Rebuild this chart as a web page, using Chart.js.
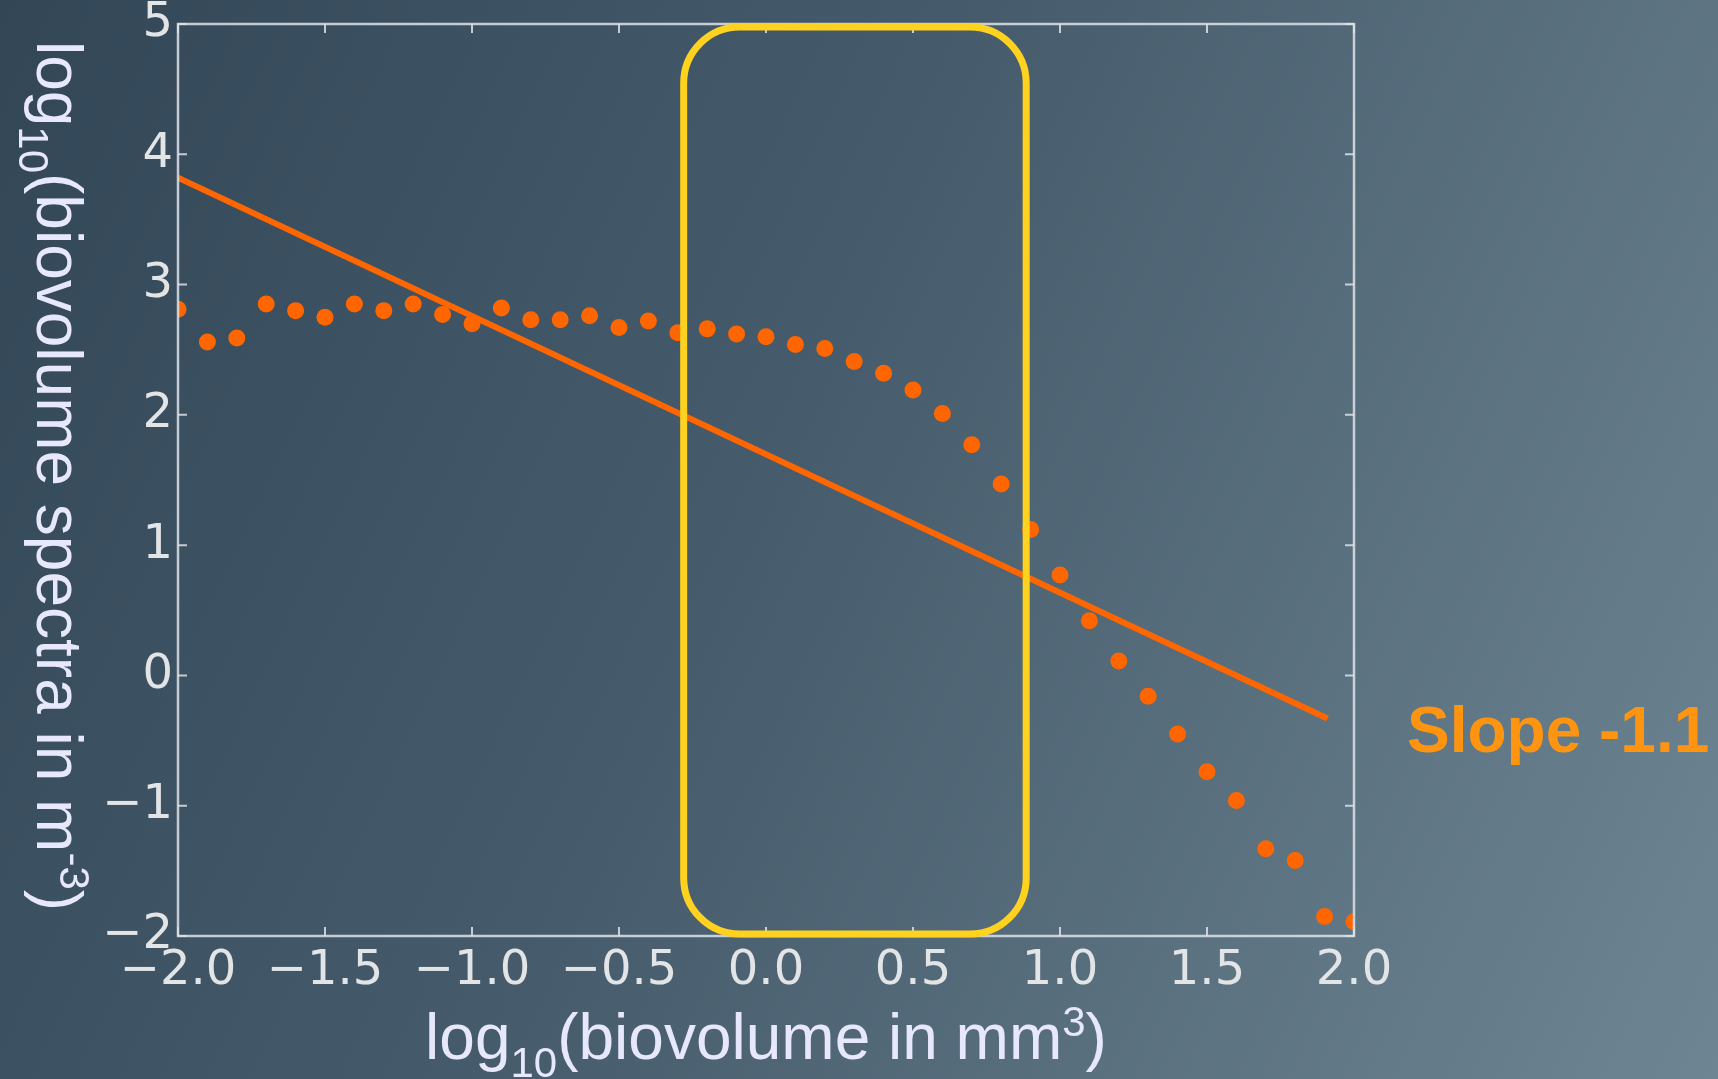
<!DOCTYPE html>
<html>
<head>
<meta charset="utf-8">
<title>Biovolume spectra</title>
<script src="https://cdn.jsdelivr.net/npm/chart.js@4.4.1/dist/chart.umd.min.js"></script>
<style>
    html, body { margin: 0; padding: 0; }
    body {
        width: 1718px;
        height: 1079px;
        overflow: hidden;
        background: linear-gradient(115deg, #324656 0%, #465c6c 45%, #6e8593 100%);
    }
    canvas { display: block; }
</style>
</head>
<body>
<canvas id="canvasSpectra" width="1718" height="1079"></canvas>
<script>
// 1. DATA
// log10 biovolume bins (mm3)
const binX = [
    -2.0, -1.9, -1.8, -1.7, -1.6, -1.5, -1.4, -1.3, -1.2, -1.1,
    -1.0, -0.9, -0.8, -0.7, -0.6, -0.5, -0.4, -0.3, -0.2, -0.1,
     0.0,  0.1,  0.2,  0.3,  0.4,  0.5,  0.6,  0.7,  0.8,  0.9,
     1.0,  1.1,  1.2,  1.3,  1.4,  1.5,  1.6,  1.7,  1.8,  1.9,
     2.0
];
// log10 spectra (m-3) for each bin
const spectraY = [
    2.81, 2.56, 2.59, 2.85, 2.80, 2.75, 2.85, 2.80, 2.85, 2.77,
    2.70, 2.82, 2.73, 2.73, 2.76, 2.67, 2.72, 2.63, 2.66, 2.62,
    2.60, 2.54, 2.51, 2.41, 2.32, 2.19, 2.01, 1.77, 1.47, 1.12,
    0.77, 0.42, 0.11, -0.16, -0.45, -0.74, -0.96, -1.33, -1.42, -1.85,
    -1.89
];
// linear fit end points
const fitX = [-2.0, 1.91];
const fitY = [3.82, -0.33];
// highlighted size range
const highlightX = [-0.28, 0.885];

const xTickValues = [-2.0, -1.5, -1.0, -0.5, 0.0, 0.5, 1.0, 1.5, 2.0];
const yTickValues = [-2, -1, 0, 1, 2, 3, 4, 5];

const fitSlope = (fitY[1] - fitY[0]) / (fitX[1] - fitX[0]);

// 2. STYLE
const ORANGE = '#ff6600';
const YELLOW = '#ffd21f';
const FRAME = 'rgba(222, 226, 230, 0.85)';
const TICK_TEXT = '#e2e4e6';
const TITLE_TEXT = '#e8e8fc';
const SANS = '"Liberation Sans", Arial, sans-serif';

const minus = s => s.replace('-', '\u2212');

// text with sub/superscript pieces: [text, shift] (0 normal, -1 sub, 1 sup)
function drawRichText(ctx, parts, cx, baseline, size) {
    const small = Math.round(size * 0.66);
    const fontOf = p => (p[1] === 0 ? size : small) + 'px ' + SANS;
    let total = 0;
    parts.forEach(p => { ctx.font = fontOf(p); total += ctx.measureText(p[0]).width; });
    let x = cx - total / 2;
    ctx.textAlign = 'left';
    ctx.textBaseline = 'alphabetic';
    parts.forEach(p => {
        ctx.font = fontOf(p);
        let dy = 0;
        if (p[1] === -1) dy = size * 0.28;
        if (p[1] === 1) dy = -size * 0.36;
        ctx.fillText(p[0], x, baseline + dy);
        x += ctx.measureText(p[0]).width;
    });
}

// 3. FRAME, INWARD TICKS, HIGHLIGHT BOX, TITLES
const decorPlugin = {
    id: 'decor',
    afterDatasetsDraw(chart) {
        const { ctx, chartArea: a, scales } = chart;
        const tl = 9;
        ctx.save();
        ctx.strokeStyle = FRAME;
        ctx.lineWidth = 2.5;
        ctx.strokeRect(a.left, a.top, a.right - a.left, a.bottom - a.top);

        ctx.lineWidth = 2;
        ctx.beginPath();
        scales.x.ticks.forEach((t, i) => {
            const px = scales.x.getPixelForTick(i);
            ctx.moveTo(px, a.bottom); ctx.lineTo(px, a.bottom - tl);
            ctx.moveTo(px, a.top); ctx.lineTo(px, a.top + tl);
        });
        scales.y.ticks.forEach((t, i) => {
            const py = scales.y.getPixelForTick(i);
            ctx.moveTo(a.left, py); ctx.lineTo(a.left + tl, py);
            ctx.moveTo(a.right, py); ctx.lineTo(a.right - tl, py);
        });
        ctx.stroke();

        // rounded highlight box over the size range
        const x1 = scales.x.getPixelForValue(highlightX[0]);
        const x2 = scales.x.getPixelForValue(highlightX[1]);
        const y1 = a.top + 3;
        const y2 = a.bottom - 2;
        const r = 56;
        ctx.strokeStyle = YELLOW;
        ctx.lineWidth = 7;
        ctx.beginPath();
        ctx.moveTo(x1 + r, y1);
        ctx.lineTo(x2 - r, y1);
        ctx.arcTo(x2, y1, x2, y1 + r, r);
        ctx.lineTo(x2, y2 - r);
        ctx.arcTo(x2, y2, x2 - r, y2, r);
        ctx.lineTo(x1 + r, y2);
        ctx.arcTo(x1, y2, x1, y2 - r, r);
        ctx.lineTo(x1, y1 + r);
        ctx.arcTo(x1, y1, x1 + r, y1, r);
        ctx.closePath();
        ctx.stroke();
        ctx.restore();
    },
    afterDraw(chart) {
        const { ctx, chartArea: a } = chart;
        ctx.save();
        ctx.fillStyle = TITLE_TEXT;
        drawRichText(ctx, [['log', 0], ['10', -1], ['(biovolume in mm', 0], ['3', 1], [')', 0]],
            766, 1059, 64);

        ctx.translate(37, 476);
        ctx.rotate(Math.PI / 2);
        drawRichText(ctx, [['log', 0], ['10', -1], ['(biovolume spectra in m', 0], ['-3', 1], [')', 0]],
            0, 0, 64);
        ctx.restore();

        ctx.save();
        ctx.fillStyle = '#ff9411';
        ctx.font = 'bold 64px ' + SANS;
        ctx.textAlign = 'left';
        ctx.textBaseline = 'alphabetic';
        ctx.fillText('Slope ' + fitSlope.toFixed(1), a.right + 53, 752);
        ctx.restore();
    }
};

// 4. CHART
new Chart(document.getElementById('canvasSpectra'), {
    data: {
        datasets: [
            {
                type: 'scatter',
                data: binX.map((x, i) => ({ x: x, y: spectraY[i] })),
                backgroundColor: ORANGE,
                pointRadius: 8.5,
                pointBorderWidth: 0,
                clip: 0
            },
            {
                type: 'line',
                data: fitX.map((x, i) => ({ x: x, y: fitY[i] })),
                borderColor: ORANGE,
                borderWidth: 6,
                pointRadius: 0,
                fill: false,
                clip: 0
            }
        ]
    },
    options: {
        responsive: false,
        devicePixelRatio: 1,
        animation: false,
        layout: { padding: { left: 0, top: 24, right: 364, bottom: 0 } },
        plugins: { legend: { display: false }, tooltip: { enabled: false } },
        scales: {
            x: {
                type: 'linear',
                position: 'bottom',
                min: -2,
                max: 2,
                afterBuildTicks: s => { s.ticks = xTickValues.map(v => ({ value: v })); },
                afterFit: s => { s.height = 143; },
                grid: { display: false, drawTicks: false },
                border: { display: false },
                ticks: {
                    color: TICK_TEXT,
                    font: { family: '"DejaVu Sans"', size: 48 },
                    padding: 7,
                    maxRotation: 0,
                    autoSkip: false,
                    callback: v => minus(v.toFixed(1))
                }
            },
            y: {
                type: 'linear',
                position: 'left',
                min: -2,
                max: 5,
                afterBuildTicks: s => { s.ticks = yTickValues.map(v => ({ value: v })); },
                afterFit: s => { s.width = 178; s.paddingTop = 0; s.paddingBottom = 0; },
                grid: { display: false, drawTicks: false },
                border: { display: false },
                ticks: {
                    color: TICK_TEXT,
                    font: { family: '"DejaVu Sans"', size: 48 },
                    padding: 5,
                    autoSkip: false,
                    callback: v => minus(String(v))
                }
            }
        }
    },
    plugins: [decorPlugin]
});
</script>
</body>
</html>
